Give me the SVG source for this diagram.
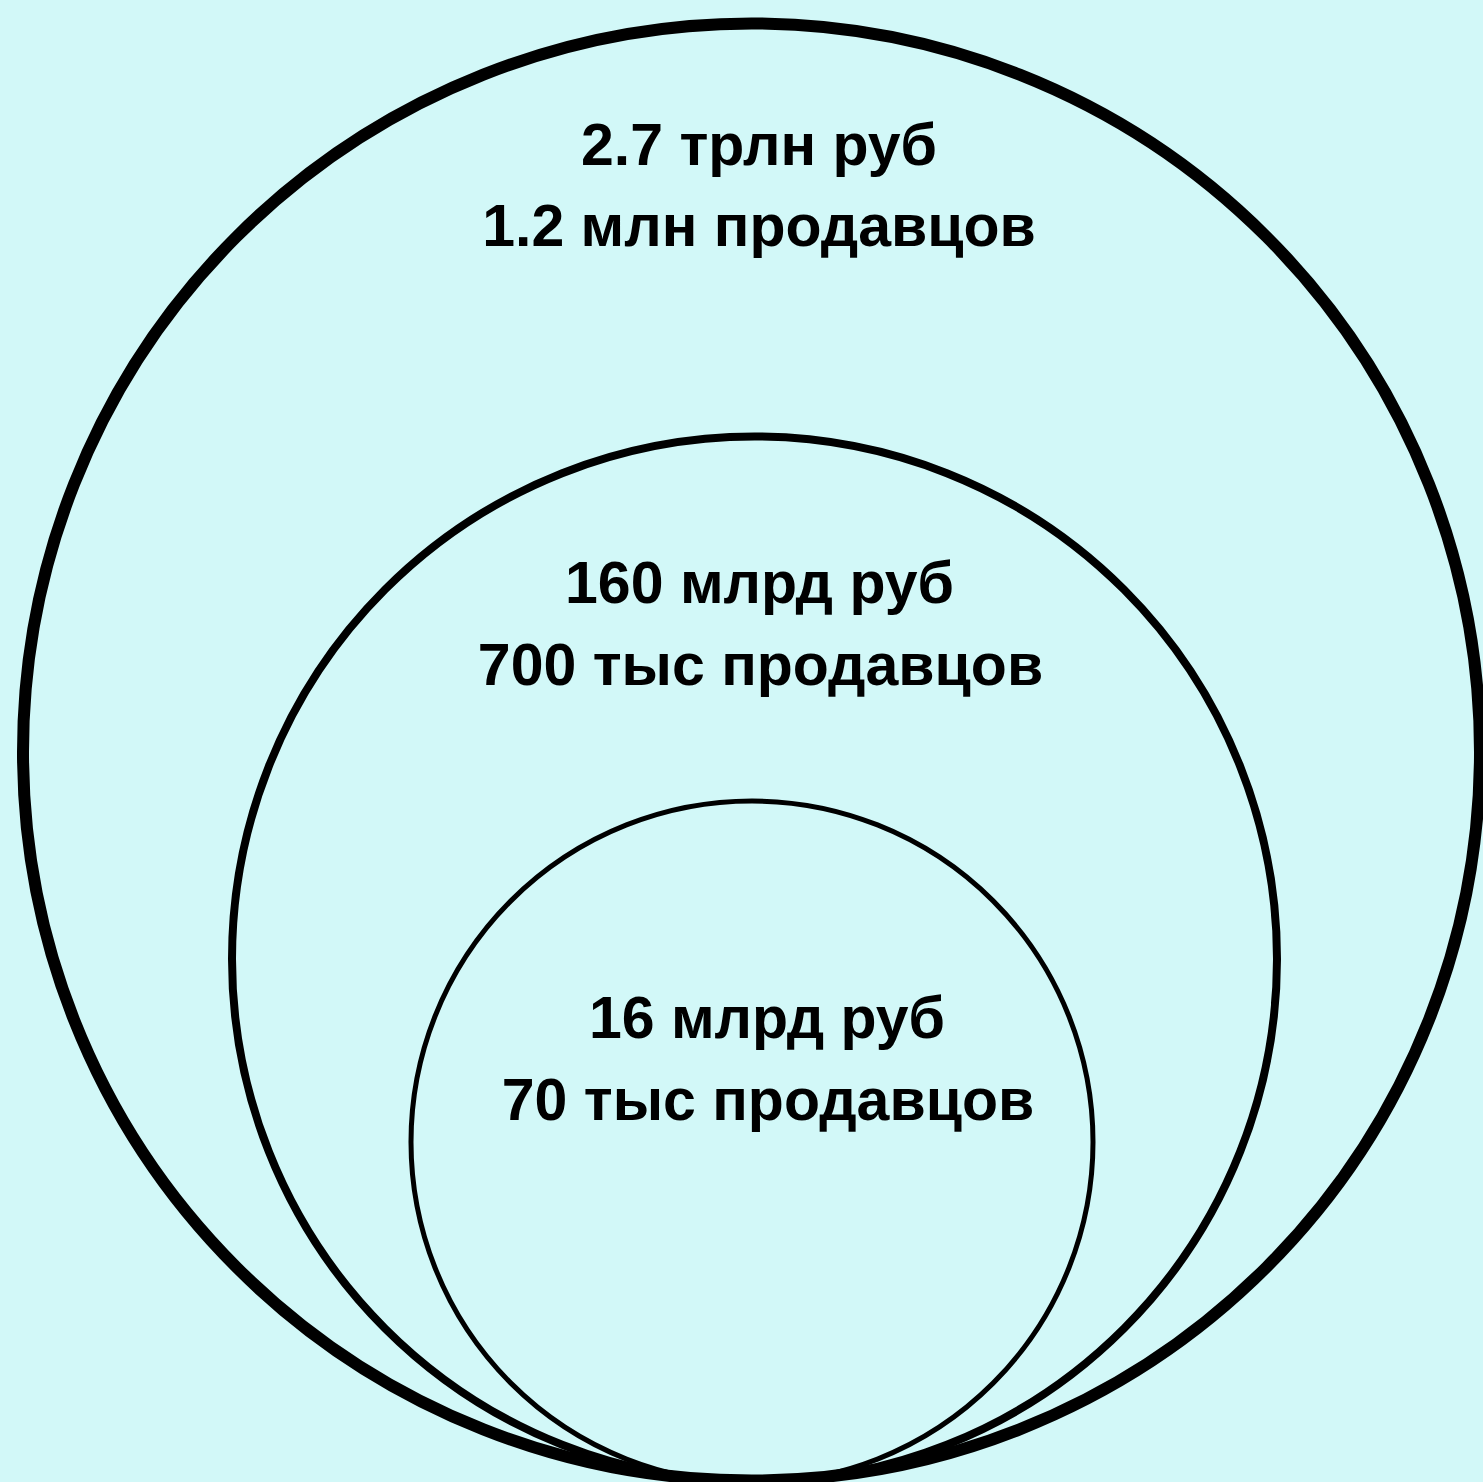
<svg xmlns="http://www.w3.org/2000/svg" width="1483" height="1482" viewBox="0 0 1483 1482">
<style>
.c{fill:none;stroke:#000}
.t{font-family:"Liberation Sans",Arial,sans-serif;font-weight:bold;font-size:59px;fill:#000;text-anchor:middle}
</style>
<rect width="1483" height="1482" fill="#d2f8f8"/>
<g id="outer">
<circle class="c" cx="751.5" cy="752" r="728.5" stroke-width="12"/>
<text class="t" x="759" y="165">2.7 трлн руб</text>
<text class="t" x="759" y="246">1.2 млн продавцов</text>
</g>
<g id="middle">
<circle class="c" cx="754.5" cy="959" r="522.5" stroke-width="8"/>
<text class="t" x="759.5" y="603">160 млрд руб</text>
<text class="t" x="760.5" y="685">700 тыс продавцов</text>
</g>
<g id="inner">
<circle class="c" cx="752" cy="1142" r="341" stroke-width="5"/>
<text class="t" x="767" y="1038">16 млрд руб</text>
<text class="t" x="768" y="1120">70 тыс продавцов</text>
</g>
<g id="connectors"></g>
</svg>
